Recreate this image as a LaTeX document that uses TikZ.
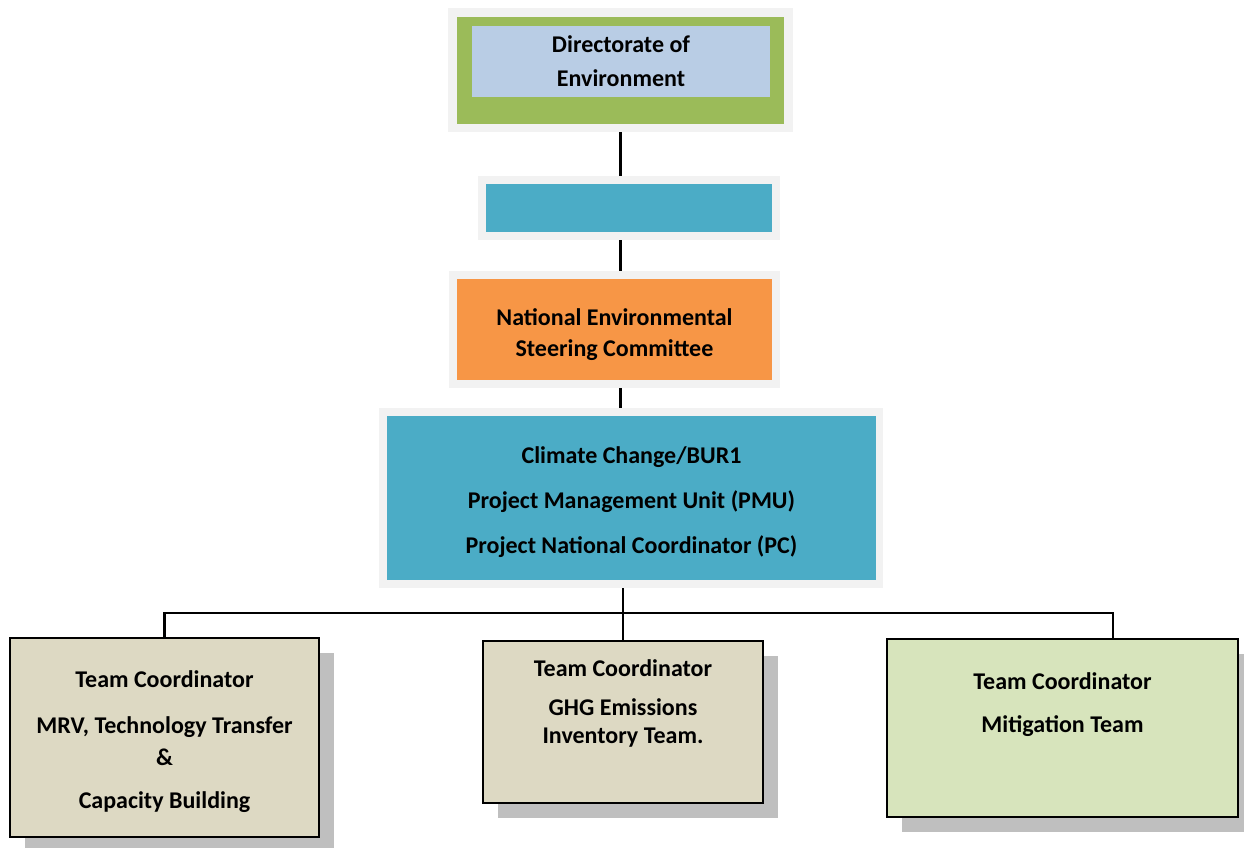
\documentclass[tikz,border=0pt]{standalone}
\usepackage{fontspec}
\setmainfont{Carlito}
\usepackage{xcolor}
\usetikzlibrary{positioning,shadows}

\definecolor{framegray}{HTML}{F2F2F2}
\definecolor{dirgreen}{HTML}{9BBB59}
\definecolor{dirblue}{HTML}{B9CDE5}
\definecolor{unitteal}{HTML}{4BACC6}
\definecolor{nescorange}{HTML}{F79646}
\definecolor{teamtan}{HTML}{DDD9C3}
\definecolor{teamgreen}{HTML}{D7E4BC}
\definecolor{shadowgray}{HTML}{BFBFBF}

\begin{document}
\begin{tikzpicture}[x=1pt, y=-1pt,
    every node/.style={font=\fontsize{24}{29}\selectfont\bfseries,
      align=center, inner sep=0pt},
    graybox/.style={fill=framegray},
    fillbox/.style={fill=#1},
    team/.style={draw=black, line width=2pt, fill=#1,
      drop shadow={shadow xshift=15pt, shadow yshift=-15pt,
        fill=shadowgray, opacity=1}},
    link/.style={line width=2.2pt}]
    \useasboundingbox (0,0) rectangle (1244,848);

    \node[graybox, minimum width=345pt, minimum height=124pt] (dirF) at (620.5,70) {};
    \node[fillbox=dirgreen, minimum width=327pt, minimum height=107pt] (dir) at (620.5,70.5) {};
    \node[fillbox=dirblue, minimum width=298pt, minimum height=71pt] (dirT) at (621,61.5)
      {Directorate of\\[5pt]Environment};

    \node[graybox, minimum width=302pt, minimum height=64pt] (unitF) at (629,208) {};
    \node[fillbox=unitteal, minimum width=286pt, minimum height=48pt] (unit) at (629,208) {};

    \node[graybox, minimum width=331pt, minimum height=117pt] (nescF) at (614.5,329.5) {};
    \node[fillbox=nescorange, minimum width=315pt, minimum height=101pt] (nesc) at (614.5,329.5) {};
    \node[yshift=-5pt] (nescT) at (nesc) {National Environmental\\[2pt]Steering Committee};

    \node[graybox, minimum width=504pt, minimum height=180pt] (pmuF) at (631,498) {};
    \node[fillbox=unitteal, minimum width=489pt, minimum height=164pt] (pmu) at (631.5,498) {};
    \node[yshift=-4pt] (pmuT) at (pmu)
      {Climate Change/BUR1\\[16pt]Project Management Unit (PMU)\\[16pt]Project National Coordinator (PC)};

    \node[team=teamtan, minimum width=309pt, minimum height=199pt] (mrv) at (164.5,737.5) {};
    \node[below=33pt of mrv.north] (mrvT)
      {Team Coordinator\\[17pt]MRV, Technology Transfer\\[3pt]\&\\[14pt]Capacity Building};
    \node[team=teamtan, minimum width=280pt, minimum height=162pt] (ghg) at (623,722) {};
    \node[below=19pt of ghg.north] (ghgT)
      {Team Coordinator\\[10pt]GHG Emissions\\[-1pt]Inventory Team.};
    \node[team=teamgreen, minimum width=351pt, minimum height=178pt] (mit) at (1062.5,728) {};
    \node[below=34pt of mit.north] (mitT)
      {Team Coordinator\\[14pt]Mitigation Team};

    \coordinate (busL) at (164.5,613);
    \coordinate (busR) at (1113,613);
    \draw[link] (dirF.south) -- (dirF.south |- unitF.north);
    \draw[link] (unitF.south -| dirF.south) -- (nescF.north -| dirF.south);
    \draw[link] (nescF.south -| dirF.south) -- (pmuF.north -| dirF.south);
    \draw[link] (pmuF.south -| ghg.north) -- (ghg.north);
    \draw[link] (mrv.north) -- (busL) -- (busR) -- (busR |- mit.north);
\end{tikzpicture}
\end{document}
